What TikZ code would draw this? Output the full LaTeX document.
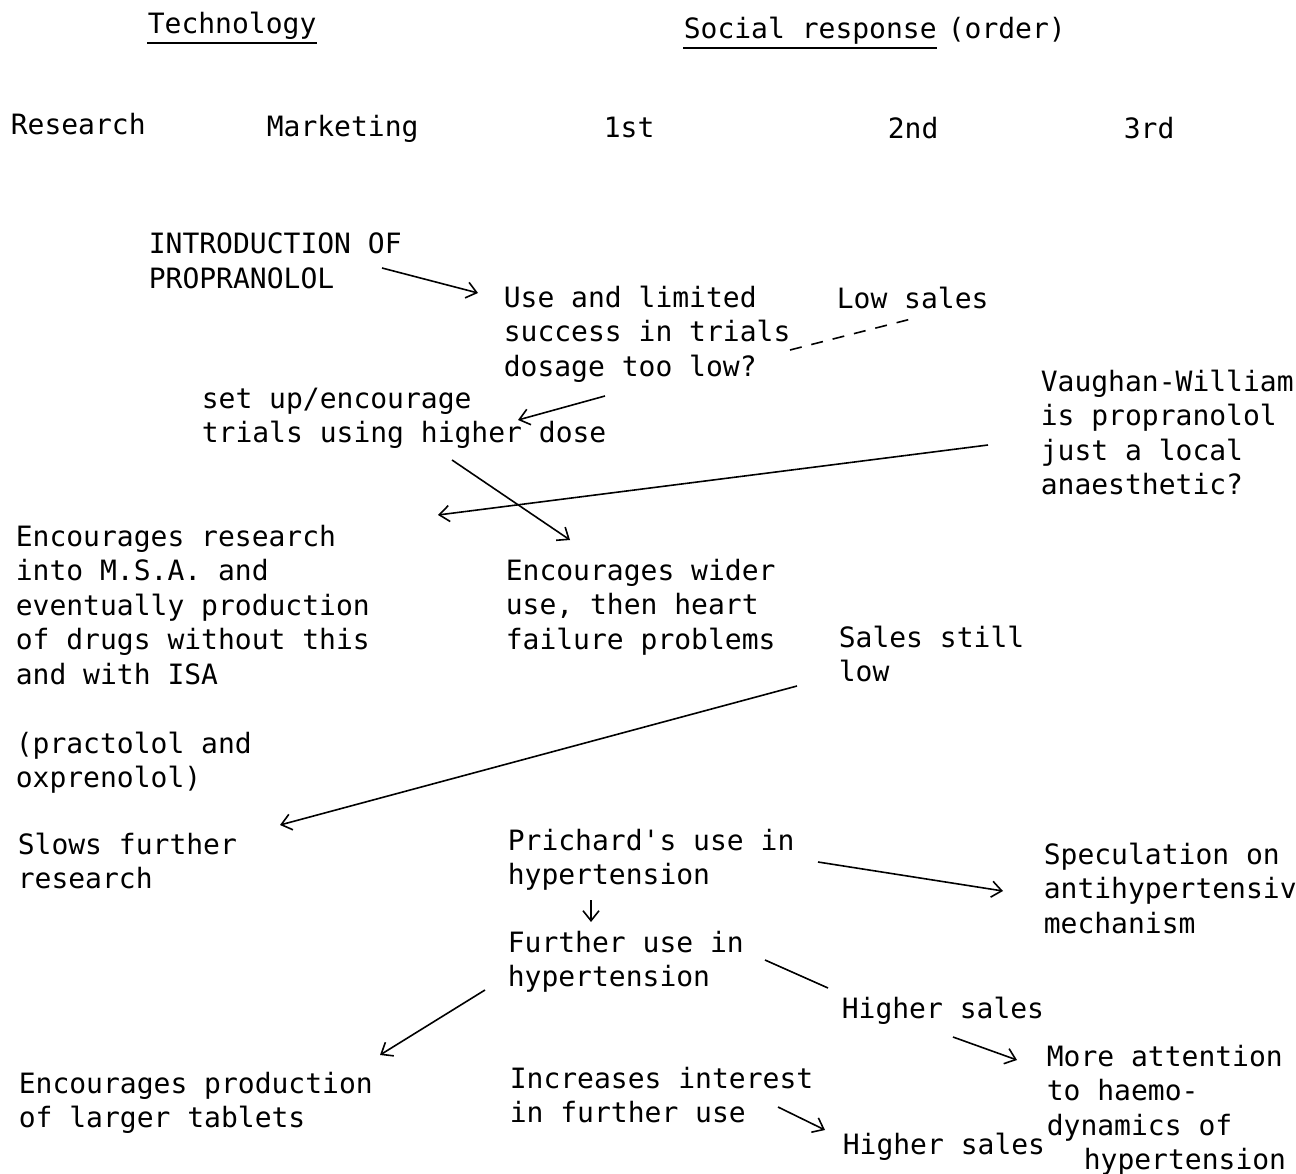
\documentclass[tikz,border=0pt]{standalone}
\usepackage{fontspec}
\setmonofont{DejaVu Sans Mono}
\usetikzlibrary{arrows.meta,positioning}
\tikzset{every picture/.style={line width=1.6pt}}
\tikzstyle{txt}=[anchor=north west,inner sep=0pt,align=left,font=\ttfamily\fontsize{28}{34.5}\selectfont]
\tikzstyle{arr}=[-{Straight Barb[length=10pt,width=16pt]}]

\begin{document}
\begin{tikzpicture}[x=1pt,y=-1pt]
\useasboundingbox (0,0) rectangle (1296,1174);
% headings
\node[txt] (tech) at (147,11) {Technology};
\node[txt] (soc) at (683,16) {Social response};
\node[txt] (order) at (947,16) {(order)};
\draw ([yshift=-3pt]tech.south west) -- ([yshift=-3pt]tech.south east);
\draw ([yshift=-3pt]soc.south west) -- ([yshift=-3pt]soc.south east);
\node[txt] (research) at (10,112) {Research};
\node[txt] (marketing) at (266,114) {Marketing};
\node[txt] (first) at (603,116) {1st};
\node[txt] (second) at (887,116) {2nd};
\node[txt] (third) at (1123,116) {3rd};
% events
\node[txt] (intro) at (148,232) {INTRODUCTION OF\\PROPRANOLOL};
\node[txt] (use) at (503,285) {Use and limited\\success in trials\\dosage too low?};
\node[txt] (lowsales) at (836,286) {Low sales};
\node[txt] (vw) at (1040,369) {Vaughan-William\\is propranolol\\just a local\\anaesthetic?};
\node[txt] (setup) at (201,387) {set up/encourage\\trials using higher dose};
\node[txt] (msa) at (15,524) {Encourages research\\into M.S.A. and\\eventually production\\of drugs without this\\and with ISA\\[34.5pt](practolol and\\oxprenolol)};
\node[txt] (wider) at (505,558) {Encourages wider\\use, then heart\\failure problems};
\node[txt] (still) at (838,625) {Sales still\\low};
\node[txt] (slows) at (17,832) {Slows further\\research};
\node[txt] (prichard) at (507,828) {Prichard's use in\\hypertension};
\node[txt] (further) at (507,930) {Further use in\\hypertension};
\node[txt] (spec) at (1043,842) {Speculation on\\antihypertensiv\\mechanism};
\node[txt] (higher) at (841,996) {Higher sales};
\node[txt] (attention) at (1046,1044) {More attention\\to haemo-\\dynamics of\\\hspace*{37pt}hypertension};
\node[txt] (larger) at (18,1071) {Encourages production\\of larger tablets};
\node[txt] (interest) at (509,1066) {Increases interest\\in further use};
\node[txt] (higher2) at (842,1132) {Higher sales};
% links
\draw[arr] ([shift={(234,36)}]intro.north west) -- ([shift={(-25,8)}]use.north west);
\draw[dashed,dash pattern=on 12pt off 10pt] ([shift={(287,65)}]use.north west) -- ([shift={(79,32)}]lowsales.north west);
\draw[arr] ([shift={(102,111)}]use.north west) -- ([shift={(317,33)}]setup.north west);
\draw[arr] ([shift={(-52,76)}]vw.north west) -- ([shift={(423,-9)}]msa.north west);
\draw[arr] ([shift={(251,73)}]setup.north west) -- ([shift={(65,-18)}]wider.north west);
\draw[arr] ([shift={(-41,61)}]still.north west) -- ([shift={(263,-7)}]slows.north west);
\draw[arr] ([shift={(84,72)}]prichard.north west) -- ([shift={(84,-8)}]further.north west);
\draw[arr] ([shift={(311,34)}]prichard.north west) -- ([shift={(-40,49)}]spec.north west);
\draw ([shift={(258,30)}]further.north west) -- ([shift={(-13,-8)}]higher.north west);
\draw[arr] ([shift={(112,41)}]higher.north west) -- ([shift={(-29,16)}]attention.north west);
\draw[arr] ([shift={(-22,60)}]further.north west) -- ([shift={(362,-16)}]larger.north west);
\draw[arr] ([shift={(269,41)}]interest.north west) -- ([shift={(-17,-2)}]higher2.north west);
\end{tikzpicture}
\end{document}
